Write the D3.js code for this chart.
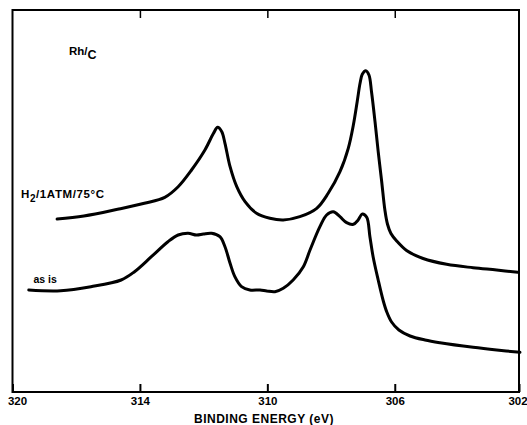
<!DOCTYPE html>
<html lang="en">
<head>
    <meta charset="UTF-8">
    <title>Rh/C binding energy</title>
    <style>
        body {
            margin: 0;
            padding: 0;
            background: #ffffff;
        }
        svg text {
            font-family: 'Liberation Sans', Arial, sans-serif;
            font-weight: bold;
            fill: #000;
        }
        .line {
            fill: none;
            stroke: #000;
            stroke-width: 3px;
            stroke-linejoin: round;
            stroke-linecap: round;
        }
    </style>
</head>
<body>
    <script src="https://d3js.org/d3.v7.min.js"></script>
    <script>
        const width = 527;
        const height = 425;

        // tick positions on the energy axis and the labels printed under them
        const tickValues = [318, 314, 310, 306, 302.1];
        const tickLabels = ["320", "314", "310", "306", "302"];

        // H2 / 1 ATM / 75 C spectrum
        const h2Energy = [316.60, 315.76, 314.70, 313.86, 313.22, 312.80, 312.38, 311.96, 311.69, 311.56,
            311.43, 311.33, 311.17, 310.96, 310.70, 310.34, 309.92, 309.50, 308.98, 308.45,
            308.09, 307.72, 307.46, 307.30, 307.18, 307.09, 307.02, 306.91, 306.81, 306.73,
            306.62, 306.52, 306.41, 306.31, 306.23, 306.12, 305.94, 305.63, 305.11, 304.37,
            303.54, 302.80, 302.14];
        const h2Counts = [173, 176, 182.7, 188.7, 194.7, 205.3, 222, 242, 258.7, 264.7,
            260.3, 248.7, 225.3, 205.3, 190.3, 178.7, 173.7, 172, 175.3, 183.7,
            198.7, 220.3, 243.7, 267, 290.3, 308.7, 317.7, 321.3, 317, 300.3,
            270.3, 240.3, 210.3, 182, 168, 158.5, 151, 141.5, 133.5, 127.7,
            124.3, 122, 119.7];

        // "as is" spectrum
        const asIsEnergy = [317.49, 316.49, 315.54, 314.59, 314.17, 313.64, 313.12, 312.80, 312.49, 312.22,
            312.01, 311.75, 311.49, 311.33, 311.17, 311.02, 310.81, 310.55, 310.23, 310.02,
            309.76, 309.50, 309.19, 308.87, 308.66, 308.35, 308.14, 307.93, 307.72, 307.51,
            307.30, 307.15, 307.02, 306.88, 306.78, 306.68, 306.52, 306.36, 306.25, 306.10,
            305.87, 305.52, 305.05, 304.58, 303.54, 302.80, 302.07];
        const asIsCounts = [102, 101.3, 105.3, 112, 120.3, 135.3, 150.3, 157, 158.7, 157,
            158, 158.7, 155.3, 145.3, 128.7, 115.3, 105.3, 102, 102, 101,
            100.3, 103.7, 112, 125.3, 142, 165.3, 177, 180.3, 175.3, 169.3,
            167.7, 172, 178, 174.7, 155.3, 135.3, 112, 91, 80, 70,
            62, 56, 52, 49.3, 44.7, 42, 39.7];

        const svg = d3.select("body")
            .append("svg")
            .attr("width", width)
            .attr("height", height);

        const x = d3.scaleLinear()
            .domain([318, 302.1])
            .range([12.5, 519]);

        const y = d3.scaleLinear()
            .domain([0, 382])
            .range([392, 10]);

        // frame
        svg.append("rect")
            .attr("x", x.range()[0])
            .attr("y", y.range()[1])
            .attr("width", x.range()[1] - x.range()[0])
            .attr("height", y.range()[0] - y.range()[1])
            .attr("fill", "none")
            .attr("stroke", "#000")
            .attr("stroke-width", 2);

        const bottomAxis = svg.append("g")
            .attr("transform", `translate(0,${y.range()[0]})`)
            .call(d3.axisBottom(x)
                .tickValues(tickValues)
                .tickFormat((d, i) => tickLabels[i])
                .tickSizeInner(-8)
                .tickSizeOuter(0)
                .tickPadding(5));
        bottomAxis.select(".domain").remove();
        bottomAxis.selectAll(".tick line").attr("stroke-width", 2);
        bottomAxis.selectAll(".tick text")
            .attr("font-size", "11.5px")
            .attr("dx", (d, i) => i === 0 ? 4.5 : (i === tickValues.length - 1 ? -1.5 : 0));

        const topAxis = svg.append("g")
            .attr("transform", `translate(0,${y.range()[1]})`)
            .call(d3.axisTop(x)
                .tickValues(tickValues.slice(1, -1))
                .tickFormat("")
                .tickSizeInner(-8)
                .tickSizeOuter(0));
        topAxis.select(".domain").remove();
        topAxis.selectAll(".tick line").attr("stroke-width", 1.5);

        const line = d3.line()
            .x(d => x(d[0]))
            .y(d => y(d[1]))
            .curve(d3.curveCatmullRom.alpha(0.5));

        svg.append("path")
            .datum(d3.zip(h2Energy, h2Counts))
            .attr("class", "line")
            .attr("d", line);

        svg.append("path")
            .datum(d3.zip(asIsEnergy, asIsCounts))
            .attr("class", "line")
            .attr("d", line);

        // labels
        const rh = svg.append("text")
            .attr("x", 69)
            .attr("y", 55)
            .attr("font-size", "11.5px");
        rh.append("tspan").text("Rh/");
        rh.append("tspan").attr("dy", 4).attr("font-size", "12.5px").text("C");

        const h2 = svg.append("text")
            .attr("x", 21)
            .attr("y", 198)
            .attr("font-size", "11.5px")
            .attr("letter-spacing", "0.6px");
        h2.append("tspan").text("H");
        h2.append("tspan").attr("dy", 4).attr("font-size", "10px").text("2");
        h2.append("tspan").attr("dy", -4).text("/1ATM/75°C");

        svg.append("text")
            .attr("x", 33.5)
            .attr("y", 283)
            .attr("font-size", "10.5px")
            .text("as is");

        svg.append("text")
            .attr("x", 264)
            .attr("y", 423)
            .attr("text-anchor", "middle")
            .attr("font-size", "12px")
            .attr("letter-spacing", "0.5px")
            .text("BINDING ENERGY (eV)");
    </script>
</body>
</html>
